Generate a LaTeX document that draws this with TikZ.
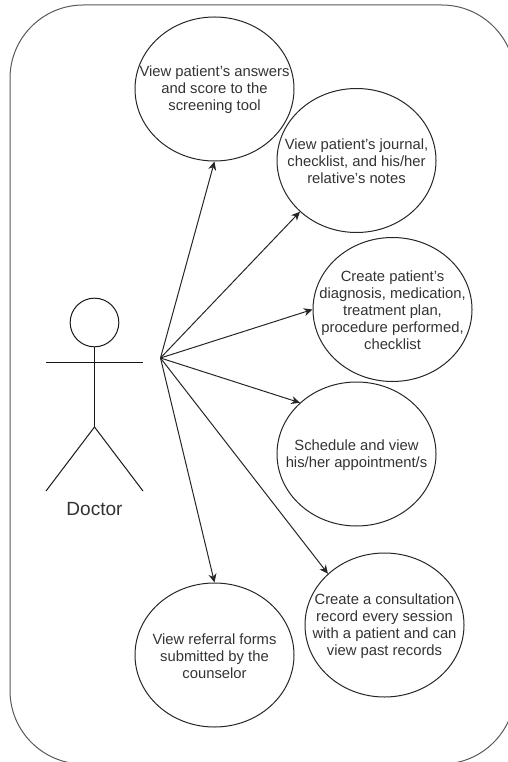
\documentclass[tikz,border=0pt]{standalone}
\usepackage{tikz}
\usepackage{xcolor}
\usepackage{fontspec}
\setmainfont{Liberation Sans}
\usetikzlibrary{arrows.meta,shapes.geometric}
\tikzset{
  usecase/.style={draw=black!85,ellipse,minimum width=119.25pt,minimum height=108pt,inner sep=0pt},
  casetext/.style={inner sep=0pt,yshift=-0.75pt,align=center,text=black!80,font=\fontsize{11.1pt}{12.75pt}\selectfont},
  link/.style={draw=black!85,-{Stealth[length=6.5pt,width=6pt]}},
  stick/.style={draw=black!90},
}
\begin{document}
\begin{tikzpicture}[x=0.75pt,y=0.75pt,yscale=-1,xscale=1,line width=0.75pt]
\useasboundingbox (0,0) rectangle (507,762);

%Frame
\draw [draw=black!65,rounded corners=55pt] (10,5) rectangle (515,764);

%Actor
\node (head) at (94.5,322.5) [stick,circle,minimum size=36.5pt,inner sep=0pt] {};
\coordinate (hip) at (94.5,427);
\coordinate (armL) at (46,362);
\coordinate (armR) at (143,362);
\coordinate (footL) at (46,491);
\coordinate (footR) at (143,491);
\coordinate (hub) at (160.5,358);
\draw [stick] (head.south) -- (hip);
\draw [stick] (armL) -- (armR);
\draw [stick] (footL) -- (hip) -- (footR);
\node (doctor) at (94.5,509) [text=black!80,font=\fontsize{14.3pt}{16pt}\selectfont] {Doctor};

%Use cases
\node (answers) at (214.5,89) [usecase,label={[casetext]center:View patient's answers\\and score to the\\screening tool}] {};
\node (journal) at (356.5,160.5) [usecase,label={[casetext]center:View patient's journal,\\checklist, and his/her\\relative's notes}] {};
\node (diagnosis) at (392.5,309.5) [usecase,label={[casetext]center:Create patient's\\diagnosis, medication,\\treatment plan,\\procedure performed,\\checklist}] {};
\node (schedule) at (356.5,454) [usecase,label={[casetext]center:Schedule and view\\his/her appointment/s}] {};
\node (record) at (384.5,625) [usecase,label={[casetext]center:Create a consultation\\record every session\\with a patient and can\\view past records}] {};
\node (referral) at (214.5,655) [usecase,label={[casetext]center:View referral forms\\submitted by the\\counselor}] {};

%Connectors
\draw [link] (hub) -- (answers.south);
\draw [link] (hub) -- (journal.south west);
\draw [link] (hub) -- (diagnosis.west);
\draw [link] (hub) -- (schedule.north west);
\draw [link] (hub) -- (record.north west);
\draw [link] (hub) -- (referral.north);
\end{tikzpicture}
\end{document}
